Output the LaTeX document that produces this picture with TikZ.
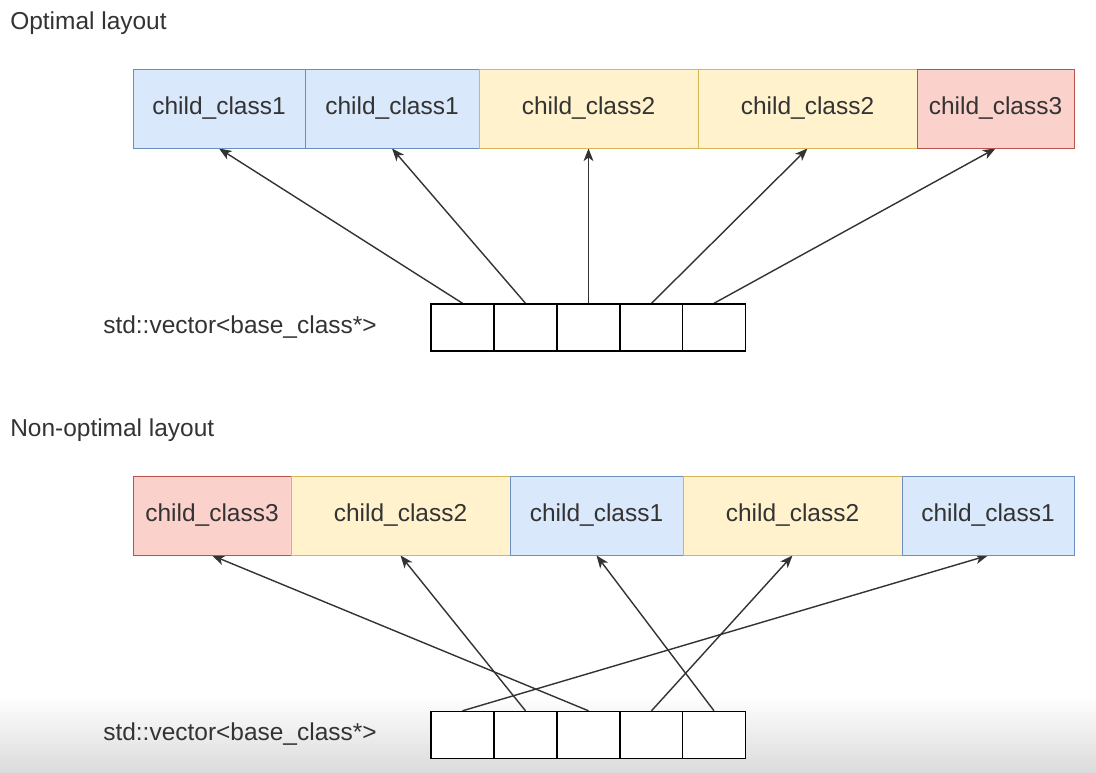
\documentclass[tikz,border=0pt]{standalone}
\usepackage{fontspec}
\setmainfont{Liberation Sans}
\usepackage{tikz}
\usetikzlibrary{arrows.meta}
\pgfdeclarelayer{background}
\pgfdeclarelayer{foreground}
\pgfsetlayers{background,main,foreground}
\definecolor{bluefill}{HTML}{DAE8FC}
\definecolor{bluedraw}{HTML}{6C8EBF}
\definecolor{yellowfill}{HTML}{FFF2CC}
\definecolor{yellowdraw}{HTML}{D6B656}
\definecolor{redfill}{HTML}{FAD2CB}
\definecolor{reddraw}{HTML}{B85450}
\definecolor{textgray}{HTML}{333333}

\begin{document}
\begin{tikzpicture}[
						x=0.025cm, y=-0.025cm,
						>={Stealth[length=9pt,width=7pt,inset=2.5pt]},
						font=\fontsize{17.4}{20}\selectfont,
						classnode/.style={draw, line width=0.6pt, inner sep=0pt, minimum height=1.975cm, text=textgray},
						blueclass/.style={classnode, fill=bluefill, draw=bluedraw},
						yellowclass/.style={classnode, fill=yellowfill, draw=yellowdraw},
						redclass/.style={classnode, fill=redfill, draw=reddraw},
						cellnode/.style={rectangle, draw=black, line width=1pt, fill=white, minimum width=1.575cm, minimum height=1.175cm},
						labelnode/.style={anchor=base west, inner sep=0pt, text=textgray},
						]
						\useasboundingbox (0,0) rectangle (1096,772);
						%Nodes
						\node[labelnode]      (label)   at (10,29)      {Optimal layout};
						\node[blueclass, minimum width=4.3cm]     (a1) at (219,108.5)   {child\_class1};
						\node[blueclass, minimum width=4.35cm]    (a2) at (392,108.5)   {child\_class1};
						\node[yellowclass, minimum width=5.475cm] (a3) at (588.5,108.5) {child\_class2};
						\node[yellowclass, minimum width=5.475cm] (a4) at (807.5,108.5) {child\_class2};
						\node[redclass, minimum width=3.925cm]    (a5) at (995.5,108.5) {child\_class3};
						\node[labelnode]      (label2)  at (103,333)    {std::vector<base\_class*>};
						\node[cellnode]       (p1)      at (462.5,327.5) {};
						\node[cellnode]       (p2)      at (525.5,327.5) {};
						\node[cellnode]       (p3)      at (588.5,327.5) {};
						\node[cellnode]       (p4)      at (651.5,327.5) {};
						\node[cellnode]       (p5)      at (714,327.5)   {};

						\node[labelnode]      (label3)  at (10,436)     {Non-optimal layout};
						\node[redclass, minimum width=3.95cm]     (b1) at (212,515.5)   {child\_class3};
						\node[yellowclass, minimum width=5.475cm] (b2) at (400.5,515.5) {child\_class2};
						\node[blueclass, minimum width=4.325cm]   (b3) at (596.5,515.5) {child\_class1};
						\node[yellowclass, minimum width=5.475cm] (b4) at (792.5,515.5) {child\_class2};
						\node[blueclass, minimum width=4.3cm]     (b5) at (988,515.5)   {child\_class1};
						\node[labelnode]      (label4)  at (103,740)    {std::vector<base\_class*>};
						\node[cellnode]       (q1)      at (462.5,735)  {};
						\node[cellnode]       (q2)      at (525.5,735)  {};
						\node[cellnode]       (q3)      at (588.5,735)  {};
						\node[cellnode]       (q4)      at (651.5,735)  {};
						\node[cellnode]       (q5)      at (714,735)    {};

						\begin{pgfonlayer}{background}
						\shade[top color=white, bottom color=black!14] (0,695) rectangle (1096,772);
						%Lines
						\draw[line width=1pt,->,black!80] (p1.north) -- (a1.south);
						\draw[line width=1pt,->,black!80] (p2.north) -- (a2.south);
						\draw[line width=1pt,->,black!80] (p3.north) -- (a3.south);
						\draw[line width=1pt,->,black!80] (p4.north) -- (a4.south);
						\draw[line width=1pt,->,black!80] (p5.north) -- (a5.south);

						\draw[line width=1pt,->,black!80] (q1.north) -- (b5.south);
						\draw[line width=1pt,->,black!80] (q2.north) -- (b2.south);
						\draw[line width=1pt,->,black!80] (q3.north) -- (b1.south);
						\draw[line width=1pt,->,black!80] (q4.north) -- (b4.south);
						\draw[line width=1pt,->,black!80] (q5.north) -- (b3.south);
						\end{pgfonlayer}
					\end{tikzpicture}
\end{document}
